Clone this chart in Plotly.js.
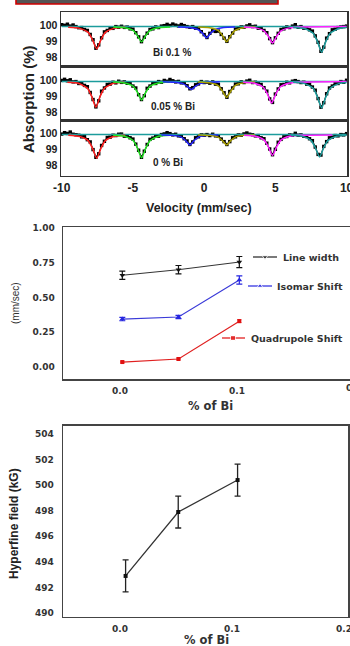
<!DOCTYPE html>
<html><head><meta charset="utf-8">
<script src="https://cdn.plot.ly/plotly-3.0.1.min.js"></script>
<style>html,body{margin:0;padding:0;background:#fff;}#chart{width:350px;height:646px;}</style>
</head><body><div id="chart"></div>
<script>
// ---------- Mössbauer spectra ----------
const velocity = [-10,-9.8,-9.6,-9.4,-9.2,-9,-8.8,-8.6,-8.4,-8.2,
 -8,-7.8,-7.6,-7.4,-7.2,-7,-6.8,-6.6,-6.4,-6.2,
 -6,-5.8,-5.6,-5.4,-5.2,-5,-4.8,-4.6,-4.4,-4.2,
 -4,-3.8,-3.6,-3.4,-3.2,-3,-2.8,-2.6,-2.4,-2.2,
 -2,-1.8,-1.6,-1.4,-1.2,-1,-0.8,-0.6,-0.4,-0.2,
 0,0.2,0.4,0.6,0.8,1,1.2,1.4,1.6,1.8,
 2,2.2,2.4,2.6,2.8,3,3.2,3.4,3.6,3.8,
 4,4.2,4.4,4.6,4.8,5,5.2,5.4,5.6,5.8,
 6,6.2,6.4,6.6,6.8,7,7.2,7.4,7.6,7.8,
 8,8.2,8.4,8.6,8.8,9,9.2,9.4,9.6,9.8,
 10];
const absBi01 = [100.02,99.98,100.05,99.93,100.00,99.90,99.83,99.84,99.72,99.66,
 99.41,99.08,98.55,98.76,99.20,99.57,99.66,99.80,99.79,99.90,
 99.86,99.92,99.85,99.87,99.76,99.74,99.52,99.26,98.96,99.24,
 99.49,99.72,99.76,99.88,99.84,99.93,99.96,100.04,99.97,100.06,
 99.99,99.94,100.03,99.96,99.90,99.86,99.90,99.80,99.79,99.58,
 99.40,99.22,99.48,99.64,99.60,99.62,99.41,99.18,98.98,99.27,
 99.50,99.75,99.78,99.88,99.86,99.94,100.01,99.90,99.92,99.80,
 99.81,99.66,99.52,99.15,98.90,99.20,99.48,99.72,99.76,99.88,
 99.84,99.93,100.02,99.86,99.90,99.80,99.82,99.70,99.62,99.32,
 98.92,98.36,98.62,99.18,99.46,99.70,99.74,99.84,99.88,99.90,
 99.93];
const absBi005 = [99.97,100.04,99.95,100.01,99.88,99.90,99.78,99.82,99.66,99.58,
 99.22,98.78,98.32,98.70,99.30,99.50,99.72,99.74,99.86,99.82,
 99.92,99.85,99.88,99.79,99.80,99.62,99.50,99.08,98.78,99.02,
 99.48,99.62,99.80,99.78,99.90,99.86,99.97,99.92,100.03,99.95,
 99.88,99.91,99.82,99.83,99.64,99.45,99.52,99.70,99.75,99.90,
 99.84,99.86,99.80,99.88,99.74,99.72,99.45,99.20,98.92,99.28,
 99.50,99.74,99.76,99.88,99.84,99.93,99.98,99.84,99.86,99.76,
 99.72,99.52,99.30,98.82,98.60,99.12,99.44,99.70,99.72,99.86,
 99.82,99.92,99.96,99.90,99.84,99.86,99.74,99.74,99.56,99.36,
 98.84,98.30,98.58,99.14,99.50,99.62,99.78,99.78,99.90,99.86,
 99.98];
const absBi0 = [99.93,100.02,99.97,100.06,99.92,99.89,99.86,99.76,99.78,99.58,
 99.44,98.96,98.48,98.70,99.22,99.48,99.72,99.74,99.86,99.84,
 99.92,99.93,99.80,99.82,99.70,99.62,99.30,98.92,98.48,98.86,
 99.28,99.60,99.68,99.82,99.80,99.90,99.94,100.02,99.96,99.88,
 99.92,99.82,99.80,99.64,99.50,99.28,99.44,99.70,99.76,99.88,
 99.86,99.90,99.84,99.92,99.82,99.80,99.62,99.46,99.28,99.46,
 99.70,99.76,99.88,99.86,99.94,100.00,99.92,99.89,99.82,99.84,
 99.70,99.64,99.36,99.00,98.64,98.98,99.42,99.60,99.76,99.78,
 99.88,99.86,99.98,99.86,99.88,99.80,99.78,99.64,99.52,99.12,
 98.66,98.62,99.16,99.46,99.70,99.74,99.84,99.82,99.90,99.88,
 99.96];

// fitted sub-spectra, frame Bi 0.1 %
const fit01RedX = [-9.54,-8.74,-8.14,-7.84,-7.54,-7.24,-6.94,-6.34,-5.54];
const fit01RedY = [99.86,99.79,99.54,99.09,98.5,99.09,99.54,99.79,99.86];
const fit01GreenX = [-6.39,-5.59,-4.99,-4.69,-4.39,-4.09,-3.79,-3.19,-2.39];
const fit01GreenY = [99.87,99.83,99.66,99.35,98.94,99.35,99.66,99.83,99.87];
const fit01BlueX = [-1.83,-1.03,-0.43,-0.13,0.17,0.47,0.77,1.37,2.17];
const fit01BlueY = [99.88,99.85,99.72,99.5,99.2,99.5,99.72,99.85,99.88];
const fit01OliveX = [-0.42,0.38,0.98,1.28,1.58,1.88,2.18,2.78,3.58];
const fit01OliveY = [99.87,99.83,99.66,99.35,98.95,99.35,99.66,99.83,99.87];
const fit01MagX = [2.8,3.6,4.2,4.5,4.8,5.1,5.4,6.0,6.8,10];
const fit01MagY = [99.87,99.82,99.64,99.31,98.87,99.31,99.64,99.82,99.87,99.9];
const fit01CyanX = [6.25,7.05,7.65,7.95,8.25,8.55,8.85,9.45,10];
const fit01CyanY = [99.85,99.78,99.49,98.98,98.3,98.98,99.49,99.78,99.84];
// frame 0.05 % Bi
const fit005RedX = [-9.6,-8.8,-8.2,-7.9,-7.6,-7.3,-7.0,-6.4,-5.6];
const fit005RedY = [99.85,99.78,99.49,98.98,98.3,98.98,99.49,99.78,99.85];
const fit005GreenX = [-6.39,-5.59,-4.99,-4.69,-4.39,-4.09,-3.79,-3.19,-2.39];
const fit005GreenY = [99.87,99.81,99.61,99.24,98.75,99.24,99.61,99.81,99.87];
const fit005BlueX = [-2.9,-2.1,-1.5,-1.2,-0.9,-0.6,-0.3,0.3,1.1];
const fit005BlueY = [99.89,99.86,99.77,99.61,99.4,99.61,99.77,99.86,99.89];
const fit005OliveX = [-0.42,0.38,0.98,1.28,1.58,1.88,2.18,2.78,3.58];
const fit005OliveY = [99.87,99.82,99.65,99.32,98.9,99.32,99.65,99.82,99.87];
const fit005MagX = [2.74,3.54,4.14,4.44,4.74,5.04,5.34,5.94,6.74,10];
const fit005MagY = [99.86,99.8,99.56,99.13,98.56,99.13,99.56,99.8,99.86,99.9];
const fit005CyanX = [6.25,7.05,7.65,7.95,8.25,8.55,8.85,9.45,10];
const fit005CyanY = [99.85,99.77,99.48,98.95,98.25,98.95,99.48,99.77,99.84];
// frame 0 % Bi
const fit0RedX = [-9.54,-8.74,-8.14,-7.84,-7.54,-7.24,-6.94,-6.34,-5.54];
const fit0RedY = [99.86,99.78,99.52,99.05,98.42,99.05,99.52,99.78,99.86];
const fit0GreenX = [-6.39,-5.59,-4.99,-4.69,-4.39,-4.09,-3.79,-3.19,-2.39];
const fit0GreenY = [99.86,99.79,99.53,99.07,98.45,99.07,99.53,99.79,99.86];
const fit0BlueX = [-3,-2.2,-1.6,-1.3,-1.0,-0.7,-0.4,0.2,1.0];
const fit0BlueY = [99.88,99.85,99.74,99.53,99.25,99.53,99.74,99.85,99.88];
const fit0OliveX = [-0.42,0.38,0.98,1.28,1.58,1.88,2.18,2.78,3.58];
const fit0OliveY = [99.88,99.85,99.74,99.53,99.25,99.53,99.74,99.85,99.88];
const fit0MagX = [2.8,3.6,4.2,4.5,4.8,5.1,5.4,6.0,6.8,9.0];
const fit0MagY = [99.86,99.8,99.57,99.15,98.6,99.15,99.57,99.8,99.86,99.88];
const fit0CyanX = [6.1,6.9,7.5,7.8,8.1,8.4,8.7,9.3,10];
const fit0CyanY = [99.86,99.79,99.54,99.09,98.5,99.09,99.54,99.79,99.85];
const baselineX = [-10, 10];
const baselineY = [99.9, 99.9];

// ---------- hyperfine parameters ----------
const biPercent = [0.002, 0.05, 0.102];
const lineWidth = [0.66, 0.70, 0.755];
const lineWidthErr = [0.03, 0.03, 0.04];
const isomerShift = [0.345, 0.36, 0.626];
const isomerShiftErr = [0.012, 0.012, 0.03];
const quadShift = [0.036, 0.058, 0.33];
const quadShiftErr = [0.006, 0.006, 0.01];

const biPercentField = [0.005, 0.052, 0.105];
const hyperfineField = [492.9, 497.9, 500.4];
const hyperfineErr = [1.25, 1.25, 1.25];

const C = {red:'#ff1f1f', green:'#22e022', blue:'#2424ff', olive:'#a89f00', mag:'#ff22ff', cyan:'#1c9c9c'};

const traces = [];
function spectrum(xa, ya, data, fits) {
  traces.push({x: velocity, y: data, xaxis: xa, yaxis: ya, mode: 'lines+markers',
    line: {color: '#000', width: 1.2}, marker: {color: '#000', size: 3.4, symbol: 'square'}, hoverinfo: 'skip'});
  traces.push({x: baselineX, y: baselineY, xaxis: xa, yaxis: ya, mode: 'lines',
    line: {color: C.cyan, width: 1.5}, hoverinfo: 'skip'});
  fits.forEach(f => traces.push({x: f[0], y: f[1], xaxis: xa, yaxis: ya, mode: 'lines',
    line: {color: f[2], width: 1.5, shape: 'spline', smoothing: 0.6}, hoverinfo: 'skip'}));
}
spectrum('x', 'y', absBi01, [[fit01RedX, fit01RedY, C.red], [fit01GreenX, fit01GreenY, C.green],
  [fit01BlueX, fit01BlueY, C.blue], [fit01OliveX, fit01OliveY, C.olive], [fit01MagX, fit01MagY, C.mag], [fit01CyanX, fit01CyanY, C.cyan]]);
spectrum('x2', 'y2', absBi005, [[fit005RedX, fit005RedY, C.red], [fit005GreenX, fit005GreenY, C.green],
  [fit005BlueX, fit005BlueY, C.blue], [fit005OliveX, fit005OliveY, C.olive], [fit005MagX, fit005MagY, C.mag], [fit005CyanX, fit005CyanY, C.cyan]]);
spectrum('x3', 'y3', absBi0, [[fit0RedX, fit0RedY, C.red], [fit0GreenX, fit0GreenY, C.green],
  [fit0BlueX, fit0BlueY, C.blue], [fit0OliveX, fit0OliveY, C.olive], [fit0MagX, fit0MagY, C.mag], [fit0CyanX, fit0CyanY, C.cyan]]);

traces.push({x: biPercent, y: lineWidth, xaxis: 'x4', yaxis: 'y4', mode: 'lines+markers',
  line: {color: '#333', width: 1}, marker: {color: '#111', size: 5, symbol: 'triangle-down'},
  error_y: {type: 'data', array: lineWidthErr, color: '#111', thickness: 1.2, width: 3}, hoverinfo: 'skip'});
traces.push({x: biPercent, y: isomerShift, xaxis: 'x4', yaxis: 'y4', mode: 'lines+markers',
  line: {color: '#3a3ad8', width: 1.2}, marker: {color: '#2626e0', size: 5, symbol: 'triangle-up'},
  error_y: {type: 'data', array: isomerShiftErr, color: '#2626e0', thickness: 1.2, width: 3}, hoverinfo: 'skip'});
traces.push({x: biPercent, y: quadShift, xaxis: 'x4', yaxis: 'y4', mode: 'lines+markers',
  line: {color: '#e02020', width: 1.2}, marker: {color: '#e01010', size: 4, symbol: 'square'},
  error_y: {type: 'data', array: quadShiftErr, color: '#e01010', thickness: 1, width: 2}, hoverinfo: 'skip'});

traces.push({x: biPercentField, y: hyperfineField, xaxis: 'x5', yaxis: 'y5', mode: 'lines+markers',
  line: {color: '#333', width: 1.3}, marker: {color: '#111', size: 4, symbol: 'square'},
  error_y: {type: 'data', array: hyperfineErr, color: '#222', thickness: 1.3, width: 3}, hoverinfo: 'skip'});

// legend keys (pixel overlay)
const legendKeys = [
  {x: [253, 265, 277], y: [257, 257, 257], c: '#222', s: 'triangle-down'},
  {x: [248, 260, 272], y: [286, 286, 286], c: '#2626e0', s: 'triangle-up'},
  {x: [222, 233, 245], y: [338, 338, 338], c: '#e01010', s: 'square'}];
legendKeys.forEach(k => traces.push({x: k.x, y: k.y, xaxis: 'x6', yaxis: 'y6', mode: 'lines+markers',
  line: {color: k.c, width: 1.2}, marker: {color: k.c, size: [0, 5, 0], symbol: k.s}, hoverinfo: 'skip'}));

const topTick = {family: 'Liberation Sans, Arial, sans-serif', size: 10.5, color: '#222', weight: 'bold'};
const smallTick = {family: 'DejaVu Sans, sans-serif', size: 9, color: '#333', weight: 'bold'};
const frame = {showline: true, mirror: true, linecolor: '#333', linewidth: 1.5, showgrid: false, zeroline: false, ticks: '', fixedrange: true, ticklabeloverflow: 'allow'};
const specX = [61/350, 347/350];

const layout = {
  width: 350, height: 646, margin: {l: 0, r: 0, t: 0, b: 0},
  paper_bgcolor: '#fff', plot_bgcolor: 'rgba(0,0,0,0)', showlegend: false,
  xaxis: Object.assign({}, frame, {domain: specX, range: [-10.05, 10.03], anchor: 'y', showticklabels: false}),
  yaxis: Object.assign({}, frame, {domain: [0.8978, 0.9814], range: [97.44, 100.81], anchor: 'x', tickvals: [98, 99, 100], tickfont: topTick, ticklabelstandoff: 0}),
  xaxis2: Object.assign({}, frame, {domain: specX, range: [-10.05, 10.03], anchor: 'y2', showticklabels: false}),
  yaxis2: Object.assign({}, frame, {domain: [0.8127, 0.8978], range: [97.44, 100.87], anchor: 'x2', tickvals: [98, 99, 100], tickfont: topTick, ticklabelstandoff: 0}),
  xaxis3: Object.assign({}, frame, {domain: specX, range: [-10.05, 10.03], anchor: 'y3', tickvals: [-10, -5, 0, 5, 10], ticktext: ['-10', '-5', '0', '5', '10'],
    tickfont: {family: 'Liberation Sans, Arial, sans-serif', size: 12, color: '#222', weight: 'bold'}, ticklabelstandoff: 0}),
  yaxis3: Object.assign({}, frame, {domain: [0.7276, 0.8127], range: [97.31, 100.75], anchor: 'x3', tickvals: [98, 99, 100], tickfont: topTick, ticklabelstandoff: 0}),
  xaxis4: Object.assign({}, frame, {domain: [63/350, 1], range: [-0.0487, 0.1966], anchor: 'y4', tickvals: [0, 0.1], ticktext: ['0.0', '0.1'], tickfont: smallTick, linecolor: '#444', ticklabelstandoff: 3}),
  yaxis4: Object.assign({}, frame, {domain: [0.4133, 0.6486], range: [-0.086, 1.007], anchor: 'x4', mirror: false, linecolor: '#444',
    tickvals: [0, 0.25, 0.5, 0.75, 1], ticktext: ['0.00', '0.25', '0.50', '0.75', '1.00'], tickfont: smallTick, ticklabelstandoff: 5}),
  xaxis5: Object.assign({}, frame, {domain: [63/350, 348/350], range: [-0.0509, 0.2036], anchor: 'y5', tickvals: [0, 0.1, 0.2], ticktext: ['0.0', '0.1', '0.2'], tickfont: smallTick, linecolor: '#444', ticklabelstandoff: 3}),
  yaxis5: Object.assign({}, frame, {domain: [0.0449, 0.3406], range: [489.69, 504.63], anchor: 'x5', linecolor: '#444',
    tickvals: [490, 492, 494, 496, 498, 500, 502, 504], tickfont: smallTick, ticklabelstandoff: 6}),
  xaxis6: {domain: [0, 1], range: [0, 350], anchor: 'y6', visible: false, fixedrange: true},
  yaxis6: {domain: [0, 1], range: [646, 0], anchor: 'x6', visible: false, fixedrange: true},
  shapes: [
    {type: 'rect', xref: 'x6', yref: 'y6', x0: 16, x1: 278, y0: -3, y1: 4, fillcolor: '#555', line: {color: '#d00000', width: 1.6}}
  ],
  annotations: []
};
function ann(text, x, y, font, extra) {
  layout.annotations.push(Object.assign({text: text, x: x, y: y, xref: 'x6', yref: 'y6', showarrow: false,
    xanchor: 'center', yanchor: 'middle', font: font}, extra || {}));
}
const boldArial = (s) => ({family: 'Liberation Sans, Arial, sans-serif', size: s, color: '#222', weight: 'bold'});
const boldWide = (s) => ({family: 'DejaVu Sans, sans-serif', size: s, color: '#333', weight: 'bold'});
ann('Absorption (%)', 28, 100, boldArial(15), {textangle: -90});
ann('Velocity (mm/sec)', 199, 208, boldArial(12.5));
ann('Bi 0.1 %', 172, 52, boldArial(10));
ann('0.05 % Bi', 173, 106, boldArial(10));
ann('0 % Bi', 168, 162, boldArial(10));
ann('(mm/sec)', 15, 303, {family: 'Liberation Sans, Arial, sans-serif', size: 10, color: '#333'}, {textangle: -90});
ann('Line width', 281, 257, boldWide(9.5), {xanchor: 'left'});
ann('Isomar Shift', 275, 286, boldWide(9.5), {xanchor: 'left'});
ann('Quadrupole Shift', 249, 338, boldWide(9.5), {xanchor: 'left'});
ann('% of Bi', 210, 406, boldWide(11.5));
ann('Hyperfine field (kG)', 14, 524, boldArial(12), {textangle: -90});
ann('% of Bi', 206, 640, boldWide(11.5));
// tick label of the middle panel's cut-off 0.2 position (beyond the page edge)
layout.annotations.push({text: '0.2', xref: 'paper', yref: 'paper', x: 354/350, y: 1 - 388/646,
  showarrow: false, xanchor: 'center', yanchor: 'middle', font: smallTick});

Plotly.newPlot('chart', traces, layout, {staticPlot: true, displayModeBar: false});
</script></body></html>
